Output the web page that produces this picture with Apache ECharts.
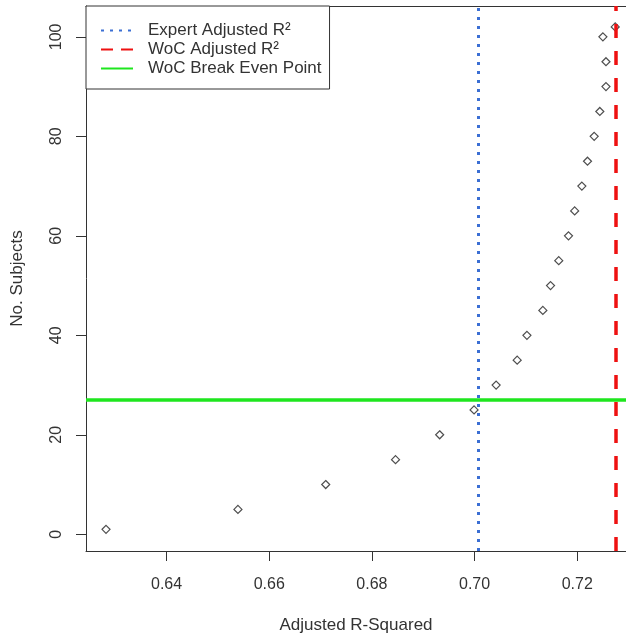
<!DOCTYPE html>
<html lang="en">
<head>
    <meta charset="UTF-8">
    <title>Adjusted R-Squared</title>
    <script src="https://cdn.jsdelivr.net/npm/echarts@6/dist/echarts.min.js"></script>
    <style>
        html, body { margin: 0; padding: 0; background: #fff; }
    </style>
</head>
<body>
<div id="main" style="width: 626px;height: 634px"></div>
<script>
    // data
    var subjects = [1, 5, 10, 15, 20, 25, 30, 35, 40, 45, 50, 55, 60, 65, 70, 75, 80, 85, 90, 95, 100, 102];
    var adjR2 = [0.6282, 0.6539, 0.6710, 0.6846, 0.6932, 0.6999, 0.7042, 0.7083, 0.7102, 0.7133, 0.7148,
                 0.7164, 0.7183, 0.7195, 0.7209, 0.7220, 0.7233, 0.7244, 0.7256, 0.7256, 0.7250, 0.7274];
    var expertR2 = 0.7007;
    var wocR2 = 0.7276;
    var breakEven = 27;
    var xTicks = [0.64, 0.66, 0.68, 0.70, 0.72];
    var yTicks = [0, 20, 40, 60, 80, 100];

    var font = 'Liberation Sans, Arial, sans-serif';
    var points = [];
    for (var i = 0; i < subjects.length; i++) {
        points.push([adjR2[i], subjects[i]]);
    }

    var chartDom = document.getElementById('main');
    var myChart = echarts.init(chartDom, null, { renderer: 'canvas' });
    var option;

    // the plot box runs past the right edge of the picture, so the x range is cut at 0.7295
    var xMin = 0.6243, xMax = 0.7295;

    option = {
        animation: false,
        grid: {
            left: 86,
            right: 0,
            top: 6,
            height: 545,
            outerBoundsMode: 'none',
            containLabel: false
        },
        legend: {
            left: 86,
            top: 6,
            orient: 'vertical',
            backgroundColor: '#fff',
            borderColor: '#333',
            borderWidth: 1,
            borderRadius: 0,
            padding: [16, 8, 12, 14],
            itemGap: 2,
            itemWidth: 32,
            itemHeight: 14,
            itemStyle: { opacity: 0 },
            textStyle: { fontFamily: font, fontSize: 17, color: '#333', padding: [0, 0, 0, 10] },
            data: ['Expert Adjusted R²', 'WoC Adjusted R²', 'WoC Break Even Point']
        },
        xAxis: [
            {
                type: 'value',
                min: xMin,
                max: xMax,
                name: 'Adjusted R-Squared',
                nameLocation: 'middle',
                nameGap: 66,
                nameTextStyle: { fontFamily: font, fontSize: 17, color: '#333' },
                splitLine: { show: false },
                axisLine: { onZero: false, lineStyle: { color: '#333' } },
                axisTick: { length: 10, customValues: xTicks, lineStyle: { color: '#333' } },
                axisLabel: {
                    customValues: xTicks,
                    margin: 26,
                    fontFamily: font,
                    fontSize: 16,
                    color: '#333',
                    formatter: function (v) { return v.toFixed(2); }
                }
            },
            {
                // top side of the box
                type: 'value',
                position: 'top',
                min: xMin,
                max: xMax,
                splitLine: { show: false },
                axisLine: { show: true, onZero: false, lineStyle: { color: '#333' } },
                axisTick: { show: false },
                axisLabel: { show: false }
            }
        ],
        yAxis: {
            type: 'value',
            min: -3.36,
            max: 106.2,
            name: 'No. Subjects',
            nameLocation: 'middle',
            nameGap: 60,
            nameRotate: 90,
            nameTextStyle: { fontFamily: font, fontSize: 17, color: '#333' },
            splitLine: { show: false },
            axisLine: { onZero: false, lineStyle: { color: '#333' } },
            axisTick: { length: 10, customValues: yTicks, lineStyle: { color: '#333' } },
            axisLabel: {
                customValues: yTicks,
                rotate: 90,
                margin: 21,
                fontFamily: font,
                fontSize: 16,
                color: '#333'
            }
        },
        series: [
            {
                name: 'points',
                type: 'scatter',
                symbol: 'diamond',
                symbolSize: 8,
                itemStyle: { color: '#fff', borderColor: '#222', borderWidth: 1.2 },
                data: points,
                z: 2
            },
            {
                name: 'Expert Adjusted R²',
                type: 'line',
                symbol: 'none',
                data: [],
                lineStyle: { color: '#3b6fd4', width: 3, type: [3, 6] },
                itemStyle: { color: '#3b6fd4' },
                z: 3,
                markLine: {
                    silent: true,
                    precision: 4,
                    symbol: 'none',
                    label: { show: false },
                    lineStyle: { color: '#3b6fd4', width: 3, type: [3, 6] },
                    data: [{ xAxis: expertR2 }]
                }
            },
            {
                name: 'WoC Adjusted R²',
                type: 'line',
                symbol: 'none',
                data: [],
                lineStyle: { color: '#ee1111', width: 3.5, type: [12, 8] },
                itemStyle: { color: '#ee1111' },
                z: 3,
                markLine: {
                    silent: true,
                    precision: 4,
                    symbol: 'none',
                    label: { show: false },
                    lineStyle: { color: '#ee1111', width: 3.5, type: [14, 13] },
                    data: [{ xAxis: wocR2 }]
                }
            },
            {
                name: 'WoC Break Even Point',
                type: 'line',
                symbol: 'none',
                data: [],
                lineStyle: { color: '#1ee61e', width: 3.5, type: 'solid' },
                itemStyle: { color: '#1ee61e' },
                z: 3,
                markLine: {
                    silent: true,
                    precision: 4,
                    symbol: 'none',
                    label: { show: false },
                    lineStyle: { color: '#1ee61e', width: 3.5, type: 'solid' },
                    data: [{ yAxis: breakEven }]
                }
            }
        ]
    };
    option && myChart.setOption(option);
</script>
</body>
</html>
